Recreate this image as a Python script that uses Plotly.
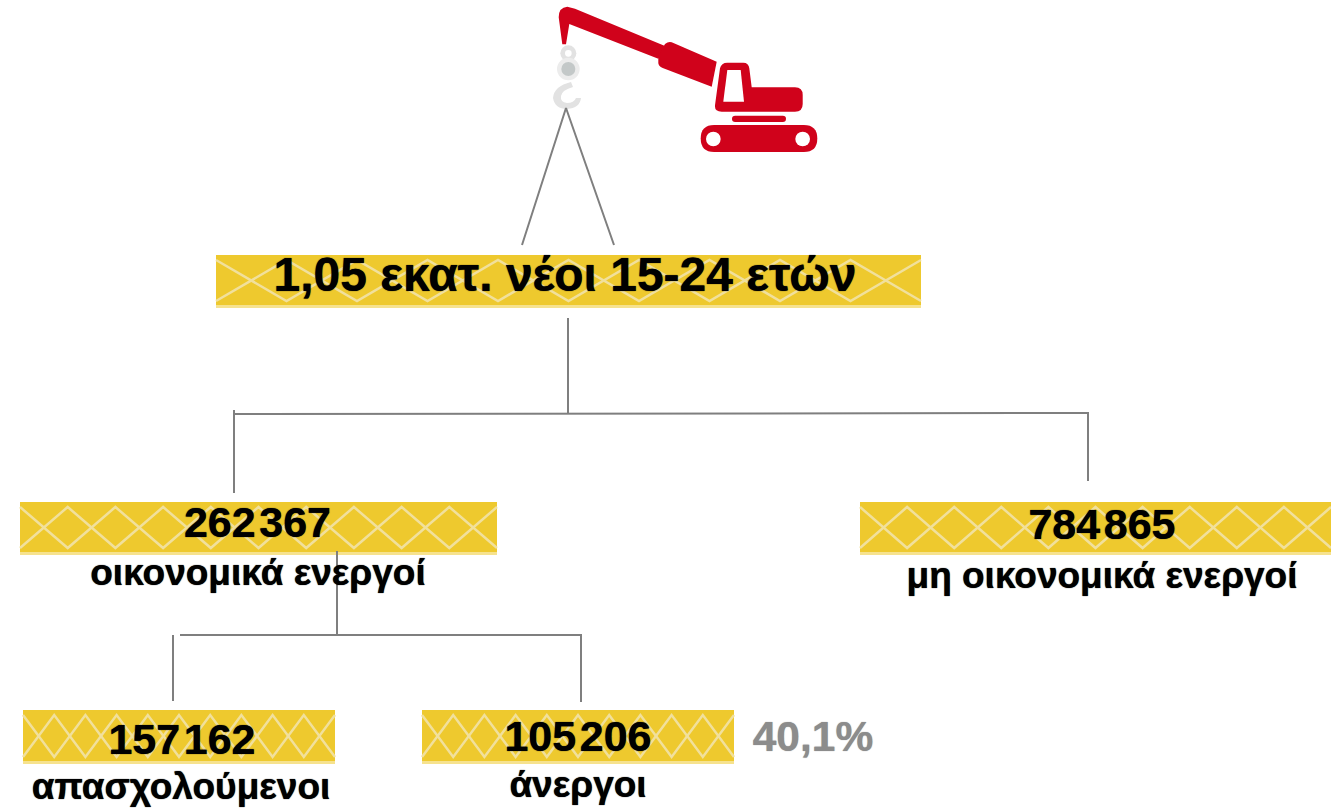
import plotly.graph_objects as go

# ---- content ----
title_text = ["1,05 εκατ. νέοι 15-24 ετών"]
node_values = [262367, 784865, 157162, 105206]
node_labels = ["οικονομικά ενεργοί", "μη οικονομικά ενεργοί", "απασχολούμενοι", "άνεργοι"]
unemployment_rate = ["40,1%"]

# ---- layout of the diagram (pixel space) ----
W, H = 1331, 809
bands = [(216, 921, 255, 308, 10), (20, 497, 502, 555, 10), (860, 1331, 502, 555, 10),
         (23, 335, 710, 764, 10), (422, 734, 710, 764, 10)]
value_pos = [(257.5, 526.5), (1102, 528.5), (182, 743), (578, 740)]
label_pos = [(258, 576), (1102, 579), (181, 790), (578, 788)]
connectors = [
    [(522, 245), (566, 108), (614, 245)],
    [(568, 318), (568, 414)],
    [(234, 410), (234, 493)],
    [(234, 414), (1088, 413), (1088, 481)],
    [(337, 551), (337, 635)],
    [(173, 701), (173, 635)],
    [(180, 635), (581, 635), (581, 702)],
]

YELLOW, STRIP, LATTICE = "#eec92e", "#f6e28e", "#f1e09c"
LINE = "#7f7f7f"
RED = "#d0021b"
HOOK = "#e2e2e2"
FONT = "Liberation Sans"


def fmt(v):
    s = f"{v:,}"
    return s.replace(",", "\u200a")


def zcircle(cx, cy, r):
    cx, cy, r = cx / 3 + 530, cy / 3, r / 3
    return dict(type="circle", x0=cx - r, x1=cx + r, y0=cy - r, y1=cy + r)


def zp(d):
    """Path written in 3x crop coordinates of the icon -> pixel space."""
    out, vals = [], d.split()
    for tok in vals:
        if "," in tok:
            head = tok[0] if tok[0].isalpha() else ""
            a, b = tok.lstrip("MLQ").split(",")
            out.append(f"{head}{float(a)/3+530:.1f},{float(b)/3:.1f}")
        else:
            out.append(tok)
    return " ".join(out)


def zround(x0, y0, x1, y1):
    r = (y1 - y0) / 2
    return zp(f"M{x0+r},{y0} L{x1-r},{y0} Q{x1},{y0} {x1},{y0+r} Q{x1},{y1} {x1-r},{y1} "
              f"L{x0+r},{y1} Q{x0},{y1} {x0},{y0+r} Q{x0},{y0} {x0+r},{y0} Z")


shapes = []
for x0, x1, y0, y1, n in bands:
    shapes.append(dict(type="rect", x0=x0, x1=x1, y0=y0, y1=y1, fillcolor=STRIP, line_width=0, layer="below"))
    shapes.append(dict(type="rect", x0=x0, x1=x1, y0=y0, y1=y1 - 3, fillcolor=YELLOW, line_width=0, layer="below"))

# crane, in 3x crop coordinates of the icon
red = dict(fillcolor=RED, line_width=0, layer="below")
for d in [
    "M97,133 L86,52 Q86,22 112,20 L135,26 L405,138 L385,176 L118,72 L108,133 Z",
    "M405,132 Q415,124 425,127 L560,185 L545,260 L398,204 Q385,198 385,188 L385,168 Z",
    "M570,205 Q574,188 592,188 L640,188 Q656,188 658,205 L665,262 L795,262 Q818,262 818,285 "
    "L818,312 Q818,335 795,335 L575,335 Q553,335 555,316 Z",
]:
    shapes.append(dict(type="path", path=zp(d), **red))
shapes.append(dict(type="path", path=zp("M592,210 L632,210 L642,305 L580,305 Z"),
                   fillcolor="white", line_width=0, layer="below"))
shapes.append(dict(type="path", path=zround(606, 347, 768, 366), **red))
shapes.append(dict(type="path", path=zround(512, 375, 862, 456), **red))
for cx in (550, 818):
    shapes.append({**zcircle(cx, 417, 22), "fillcolor": "white", "line_width": 0, "layer": "below"})

# hook
plain = dict(line_width=0, layer="below")
shapes.append({**zcircle(115, 160, 24), "fillcolor": HOOK, **plain})
shapes.append({**zcircle(115, 160, 10), "fillcolor": "white", **plain})
shapes.append({**zcircle(115, 207, 34), "fillcolor": "#ececec", **plain})
shapes.append({**zcircle(115, 207, 21), "fillcolor": "#c3c8c8", **plain})
shapes.append(dict(type="path", fillcolor=HOOK, **plain,
                   path=zp("M123,246 Q72,258 69,294 Q75,327 111,327 Q150,324 153,294 L138,294 "
                           "Q132,309 111,309 Q90,306 93,288 Q96,270 129,261 Z")))

fig = go.Figure()

# lattice decoration in the bands
for x0, x1, y0, y1, n in bands:
    p = (x1 - x0) / n
    top, bot = y0 + 5, y1 - 7
    xs = [x0 + i * p for i in range(n + 1)]
    ya = [top if i % 2 == 0 else bot for i in range(n + 1)]
    yb = [bot if i % 2 == 0 else top for i in range(n + 1)]
    for ys in (ya, yb):
        fig.add_trace(go.Scatter(x=xs, y=ys, mode="lines", line=dict(color=LATTICE, width=2.5),
                                 hoverinfo="skip", showlegend=False))

for seg in connectors:
    fig.add_trace(go.Scatter(x=[p[0] for p in seg], y=[p[1] for p in seg], mode="lines",
                             line=dict(color=LINE, width=2), hoverinfo="skip", showlegend=False))


def text(pos, labels, size, color="#000000"):
    fig.add_trace(go.Scatter(x=[p[0] for p in pos], y=[p[1] for p in pos], text=labels, mode="text",
                             textposition="middle center", hoverinfo="skip", showlegend=False,
                             textfont=dict(family=FONT, size=size, color=color, weight="bold",
                                           shadow=f"0 0 1px {color}")))


text([(565, 279)], title_text, 48)
text(value_pos, [fmt(v) for v in node_values], 43)
text(label_pos, node_labels, 37)
text([(813, 740)], unemployment_rate, 42.5, "#8c8c8c")

fig.update_layout(
    width=W, height=H, margin=dict(l=0, r=0, t=0, b=0),
    paper_bgcolor="white", plot_bgcolor="white", shapes=shapes, showlegend=False,
    xaxis=dict(range=[0, W], visible=False, fixedrange=True),
    yaxis=dict(range=[H, 0], visible=False, fixedrange=True),
)
fig.write_html("out.html", post_script="document.body.style.margin='0';document.body.style.overflow='hidden';",
               config={"displayModeBar": False})
